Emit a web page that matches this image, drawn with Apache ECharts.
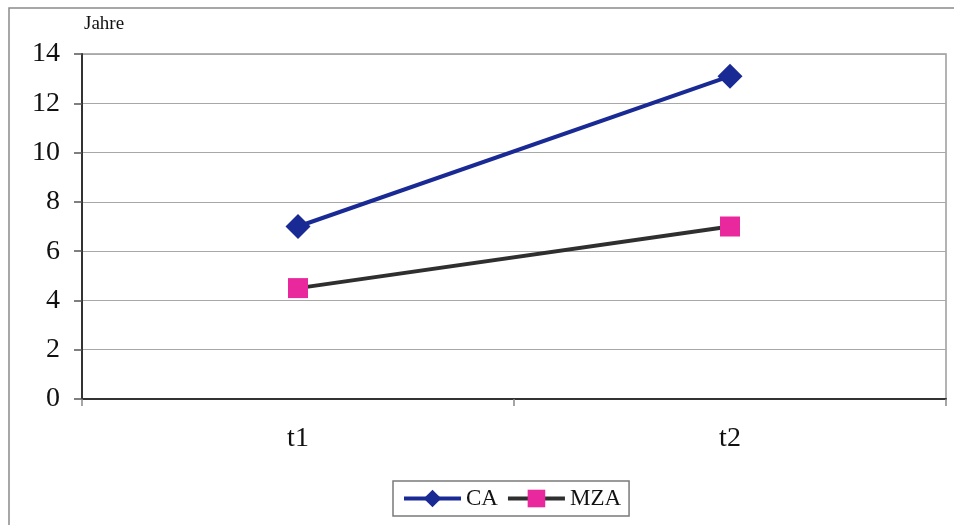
<!DOCTYPE html>
<html>
<head>
<meta charset="utf-8">
<script src="https://cdn.jsdelivr.net/npm/echarts@6/dist/echarts.min.js"></script>
<style>html,body{margin:0;padding:0;background:#fff}#c{width:954px;height:525px}</style>
</head>
<body>
<div id="c"></div>
<script>
var categories = ['t1', 't2'];
var caValues = [7.0, 13.1];
var mzaValues = [4.5, 7.0];
var yTicks = [0, 2, 4, 6, 8, 10, 12, 14];
var seriesNames = ['CA', 'MZA'];
var yName = 'Jahre';

var serif = '"Liberation Serif", "DejaVu Serif", serif';
var chart = echarts.init(document.getElementById('c'), null, {renderer: 'canvas'});
chart.setOption({
  backgroundColor: '#fff',
  animation: false,
  graphic: [{
    type: 'rect', shape: {x: 9, y: 8, width: 1000, height: 600},
    style: {fill: 'none', stroke: '#8a8a8a', lineWidth: 1.5}, z: -10
  }],
  grid: {left: 82, right: 8, top: 54, bottom: 126, show: true, borderColor: '#9a9a9a', borderWidth: 1.5, backgroundColor: 'transparent'},
  legend: {
    data: seriesNames, left: 393, top: 481, width: 240,
    padding: [6, 8, 6, 9], itemGap: 8, itemWidth: 57, itemHeight: 22,
    borderColor: '#7a7a7a', borderWidth: 1.5,
    lineStyle: {width: 4},
    textStyle: {fontFamily: serif, fontSize: 23, color: '#111'}
  },
  xAxis: {
    type: 'category', data: categories, boundaryGap: true,
    axisLine: {lineStyle: {color: '#333', width: 2}},
    axisTick: {show: true, length: 7, interval: 0, lineStyle: {color: '#888', width: 1.5}},
    axisLabel: {fontFamily: serif, fontSize: 28, color: '#111', margin: 26}
  },
  yAxis: {
    type: 'value', min: yTicks[0], max: yTicks[yTicks.length - 1], interval: 2,
    name: yName, nameLocation: 'end', nameGap: 20,
    nameTextStyle: {fontFamily: serif, fontSize: 19, color: '#111', align: 'left', padding: [0, 0, 0, 2]},
    axisLine: {show: true, lineStyle: {color: '#333', width: 2}},
    axisTick: {show: true, length: 8, lineStyle: {color: '#555', width: 1.5}},
    axisLabel: {fontFamily: serif, fontSize: 28, color: '#111', margin: 22},
    splitLine: {lineStyle: {color: '#a8a8a8', width: 1.2}}
  },
  series: [{
    name: seriesNames[0], type: 'line', data: caValues,
    symbol: 'diamond', symbolSize: 25,
    lineStyle: {color: '#1a2a94', width: 4},
    itemStyle: {color: '#1a2a94'}
  }, {
    name: seriesNames[1], type: 'line', data: mzaValues,
    symbol: 'rect', symbolSize: 20,
    lineStyle: {color: '#2f2f2f', width: 4},
    itemStyle: {color: '#e8289c'}
  }]
});
</script>
</body>
</html>
